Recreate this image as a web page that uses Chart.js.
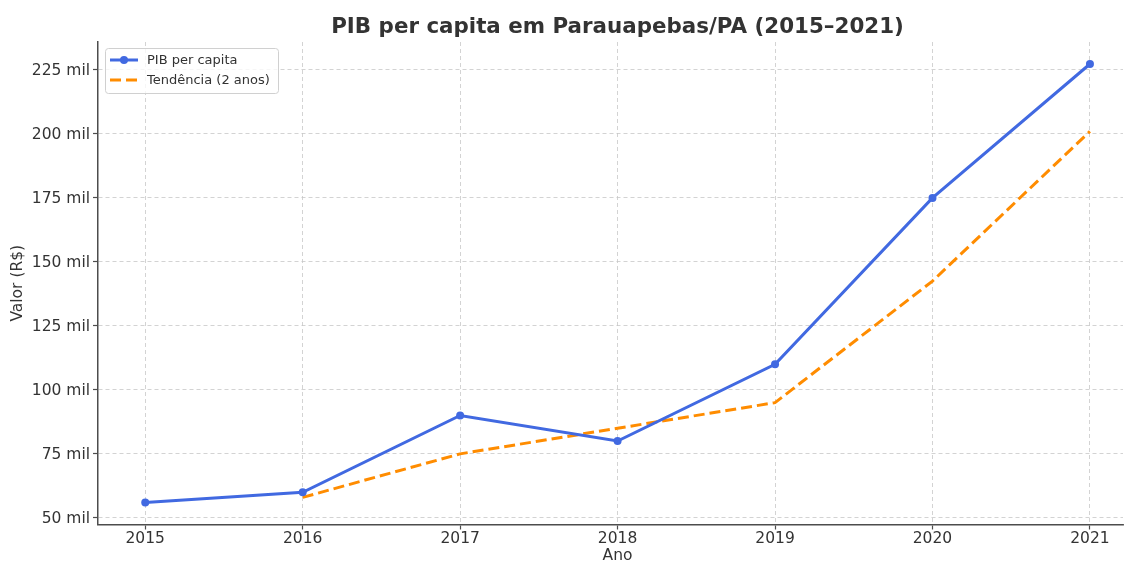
<!DOCTYPE html>
<html>
<head>
<meta charset="utf-8">
<script src="https://cdn.jsdelivr.net/npm/chart.js@4.4.1/dist/chart.umd.min.js"></script>
<style>
  html, body { margin: 0; padding: 0; background: #fff; overflow: hidden; }
  #wrap { width: 1127px; height: 563px; }
</style>
</head>
<body>
<div id="wrap"><canvas id="pibChart" width="1127" height="563"></canvas></div>
<script>
// anos e valores (R$)
const anos = [2015, 2016, 2017, 2018, 2019, 2020, 2021];
const pibPerCapita = [56000, 60000, 90000, 80000, 110000, 175000, 227300];
const tendencia = [null, 58000, 75000, 85000, 95000, 142500, 201000];
const yTicks = [50000, 75000, 100000, 125000, 150000, 175000, 200000, 225000];
const titulo = 'PIB per capita em Parauapebas/PA (2015–2021)';
const tituloX = 'Ano';

const FONT = "'DejaVu Sans', sans-serif";
const TXT = '#333';

// título e rótulo "Ano" centrados no eixo original (que passava um pouco da borda direita)
const tituloPlugin = {
    id: 'tituloPlugin',
    afterDraw(chart) {
        const ctx = chart.ctx;
        ctx.save();
        ctx.fillStyle = TXT;
        ctx.textAlign = 'center';
        ctx.textBaseline = 'middle';
        ctx.font = 'bold 21.4px ' + FONT;
        ctx.fillText(titulo, 617.5, 27);
        ctx.font = '15.5px ' + FONT;
        ctx.fillText(tituloX, 617.5, 556);
        ctx.restore();
    }
};

// legenda desenhada à mão, no canto superior esquerdo
const legendBox = {
    id: 'legendBox',
    afterDraw(chart) {
        const ctx = chart.ctx;
        const x = 105, y = 48, w = 173, h = 45;
        ctx.save();
        ctx.fillStyle = 'rgba(255,255,255,0.8)';
        ctx.strokeStyle = '#d0d0d0';
        ctx.lineWidth = 1;
        ctx.beginPath();
        ctx.roundRect(x + 0.5, y + 0.5, w, h, 3);
        ctx.fill();
        ctx.stroke();
        ctx.font = '13px ' + FONT;
        ctx.textBaseline = 'middle';
        chart.data.datasets.forEach((ds, i) => {
            const ly = 60 + i * 20;
            ctx.strokeStyle = ds.borderColor;
            ctx.lineWidth = ds.borderWidth;
            ctx.setLineDash(ds.borderDash || []);
            ctx.beginPath();
            ctx.moveTo(110, ly);
            ctx.lineTo(138, ly);
            ctx.stroke();
            ctx.setLineDash([]);
            if (ds.pointRadius > 0) {
                ctx.fillStyle = ds.borderColor;
                ctx.beginPath();
                ctx.arc(124, ly, ds.pointRadius, 0, Math.PI * 2);
                ctx.fill();
            }
            ctx.fillStyle = TXT;
            ctx.fillText(ds.label, 147, ly + 0.5);
        });
        ctx.restore();
    }
};

const gridOpts = {
    color: '#c8c8c8',
    lineWidth: 0.8,
    tickColor: '#4d4d4d',
    tickBorderDash: [0, 0],
    tickLength: 5,
    tickWidth: 1.2
};

const ctx = document.getElementById('pibChart').getContext('2d');
const pibChart = new Chart(ctx, {
    type: 'line',
    data: {
        datasets: [{
                label: 'PIB per capita',
                data: anos.map((a, i) => ({ x: a, y: pibPerCapita[i] })),
                borderColor: '#4169E1',
                backgroundColor: '#4169E1',
                borderWidth: 3,
                pointRadius: 4,
                pointHoverRadius: 4,
                pointBorderWidth: 0,
                tension: 0
            },
            {
                label: 'Tendência (2 anos)',
                data: anos.map((a, i) => ({ x: a, y: tendencia[i] })),
                borderColor: '#FF8C00',
                backgroundColor: '#FF8C00',
                borderWidth: 3,
                borderDash: [11, 5],
                pointRadius: 0,
                tension: 0
            }
        ]
    },
    options: {
        responsive: false,
        animation: false,
        layout: { padding: { top: 42, left: 0, right: 0, bottom: 0 } },
        plugins: {
            legend: { display: false },
            tooltip: { enabled: false },
            title: { display: false }
        },
        scales: {
            x: {
                type: 'linear',
                min: 2014.7,
                max: 2021.21,
                afterFit: s => { s.height = 38.5; },
                afterBuildTicks: s => { s.ticks = anos.map(v => ({ value: v })); },
                ticks: {
                    color: TXT,
                    font: { family: FONT, size: 15.5 },
                    padding: 0,
                    maxRotation: 0,
                    autoSkip: false,
                    callback: v => String(v)
                },
                grid: gridOpts,
                border: { color: '#4d4d4d', width: 1.5, dash: [4, 3] },
                title: { display: false }
            },
            y: {
                min: 47400,
                max: 235900,
                afterFit: s => { s.width = 98; },
                afterBuildTicks: s => { s.ticks = yTicks.map(v => ({ value: v })); },
                ticks: {
                    color: TXT,
                    font: { family: FONT, size: 15.5 },
                    padding: 3,
                    labelOffset: 1.5,
                    callback: v => (v / 1000) + ' mil'
                },
                grid: gridOpts,
                border: { color: '#4d4d4d', width: 1.5, dash: [4, 3] },
                title: {
                    display: true,
                    text: 'Valor (R$)',
                    color: TXT,
                    font: { family: FONT, size: 15.5, lineHeight: 1.2 },
                    padding: { top: 9, bottom: 0 }
                }
            }
        }
    },
    plugins: [legendBox, tituloPlugin]
});
</script>
</body>
</html>
